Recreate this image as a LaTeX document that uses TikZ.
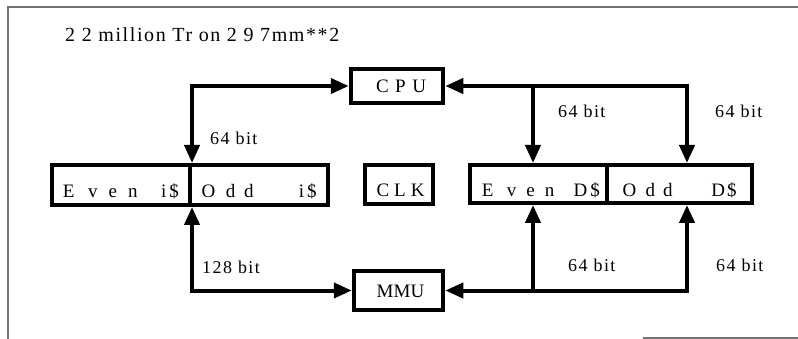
\documentclass[tikz,border=0pt]{standalone}
\usepackage{fontspec}
\setmainfont{Liberation Serif}
\usetikzlibrary{arrows.meta}
\tikzset{
  unit/.style={draw, line width=4pt, inner sep=0pt, font=\fontsize{19}{22}\selectfont},
  conn/.style={line width=4pt},
  tip/.tip={Triangle[length=18pt,width=15pt]},
  lbl/.style={anchor=base west, inner sep=0pt, font=\fontsize{18}{21}\selectfont\addfontfeatures{LetterSpace=8}},
  framerule/.style={line width=1.2pt, draw=black!55}
}
\newcommand{\gp}[1]{\hspace{0pt plus #1fil}}
\begin{document}
\begin{tikzpicture}[x=1pt,y=-1pt]
\useasboundingbox (0,0) rectangle (798,339);
% frame
\draw[framerule] (8,339) -- (8,7) -- (798,7);
\draw[framerule] (643,338) -- (798,338);
% title
\node[anchor=base west, inner sep=0pt, font=\fontsize{20}{24}\selectfont\addfontfeatures{LetterSpace=8}] (title) at (65,42) {2 2 million Tr on 2 9 7mm**2};
% boxes
\node[unit, minimum width=92.5pt, minimum height=34.5pt, text height=14pt, text depth=0pt] (cpu) at (397,86) {\hspace*{8pt}\makebox[50pt][s]{C\gp1 P\gp1 U}};
\node[unit, minimum width=68.5pt, minimum height=39.5pt, text height=25pt, text depth=0pt] (clk) at (399,184.5) {\hspace*{3pt}\makebox[48pt][s]{C\gp1 L\gp1 K}};
\node[unit, minimum width=89.5pt, minimum height=39.5pt, text height=15pt, text depth=0pt] (mmu) at (398.5,290.5) {\hspace*{4pt}MMU};
\node[unit, minimum width=138.25pt, minimum height=40pt, text height=25pt, text depth=0pt] (evenI) at (120.9,185) {\makebox[116pt][s]{E\gp{1.4} v\gp1 e\gp1 n\gp3 i\hspace{3pt}\$}};
\node[unit, minimum width=138.25pt, minimum height=40pt, text height=25pt, text depth=0pt] (oddI) at (259.1,185) {\makebox[115pt][s]{O\gp1 d\gp{0.7} d\gp7 i\hspace{3pt}\$}};
\node[unit, minimum width=137.25pt, minimum height=38pt, text height=26pt, text depth=0pt] (evenD) at (538.4,184) {\hspace*{5pt}\makebox[118pt][s]{E\gp{1.3} v\gp{0.8} e\gp{0.8} n\gp{2.2} D\hspace{3pt}\$}};
\node[unit, minimum width=145.25pt, minimum height=38pt, text height=26pt, text depth=0pt] (oddD) at (679.6,184) {\makebox[114pt][s]{O\gp1 d\gp{0.7} d\gp{7.5} D\hspace{2pt}\$}};
% branch x positions
\coordinate (xA) at (533,0);
\coordinate (xB) at (687,0);
% connectors
\draw[conn, tip-tip] (cpu.west) -| (evenI.north east);
\draw[conn, tip-tip] (evenI.south east) |- (mmu.west);
\draw[conn, tip-tip] (cpu.east) -| (oddD.north -| xB);
\draw[conn, -tip] (cpu.east -| xA) -- (evenD.north -| xA);
\draw[conn, tip-tip] (mmu.east) -| (oddD.south -| xB);
\draw[conn, -tip] (mmu.east -| xA) -- (evenD.south -| xA);
% labels
\node[lbl] (l1) at (210,145) {64 bit};
\node[lbl] (l2) at (202,273) {128 bit};
\node[lbl] (l3) at (558,118) {64 bit};
\node[lbl] (l4) at (715,118) {64 bit};
\node[lbl] (l5) at (568,272) {64 bit};
\node[lbl] (l6) at (716,272) {64 bit};
\end{tikzpicture}
\end{document}
